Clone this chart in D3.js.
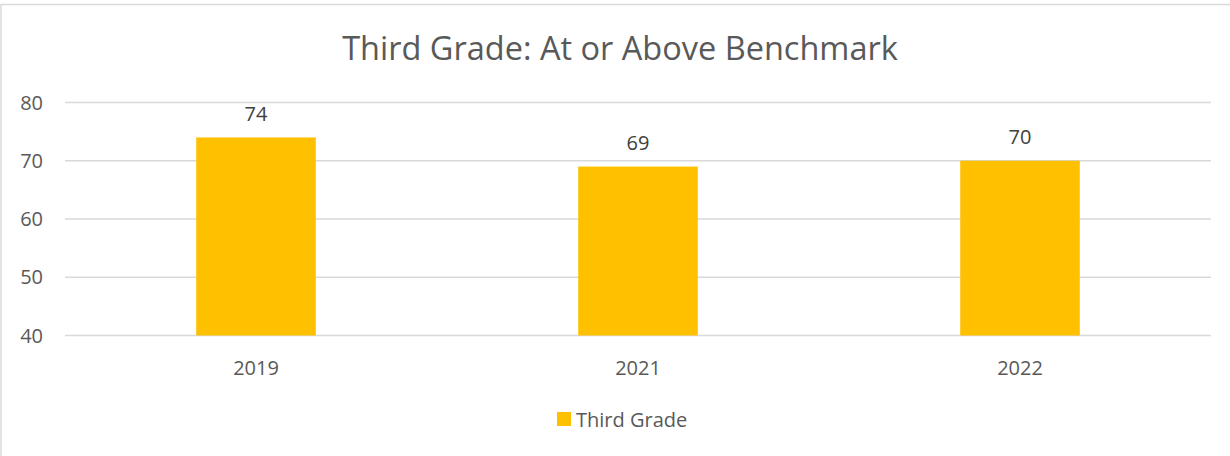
<!DOCTYPE html>
<html>
<head>
<meta charset="utf-8">
<script src="https://cdn.jsdelivr.net/npm/d3@7"></script>
<style>
  body { margin: 0; background: #fff; }
  svg { display: block; font-family: "Open Sans", "Liberation Sans", sans-serif; }
</style>
</head>
<body>
<script>
var years = ["2019", "2021", "2022"];
var valores = [74, 69, 70];
var yTicks = [40, 50, 60, 70, 80];
var titulo = "Third Grade: At or Above Benchmark";
var serie = "Third Grade";

const W = 1230, H = 456;
const svg = d3.select("body").append("svg")
    .attr("width", W)
    .attr("height", H);

// marco del grafico
svg.append("rect")
    .attr("x", 1).attr("y", 4.5)
    .attr("width", W + 10).attr("height", H + 10)
    .attr("fill", "none")
    .attr("stroke", "#d9d9d9")
    .attr("stroke-width", 1.5);

const x = d3.scaleBand()
    .domain(years)
    .range([65, 1211])
    .paddingInner(0.687)
    .paddingOuter(0.3435);

const y = d3.scaleLinear()
    .domain([40, 80])
    .range([335.5, 102.5]);

// lineas de la grilla
svg.append("g")
    .selectAll("line")
    .data(yTicks)
    .enter().append("line")
    .attr("x1", 65).attr("x2", 1211)
    .attr("y1", function(d){ return y(d); })
    .attr("y2", function(d){ return y(d); })
    .attr("stroke", "#d9d9d9")
    .attr("stroke-width", 1.3);

svg.append("g")
    .selectAll("text")
    .data(yTicks)
    .enter().append("text")
    .attr("x", 43)
    .attr("y", function(d){ return y(d) + 7; })
    .attr("text-anchor", "end")
    .attr("font-size", 20)
    .attr("fill", "#595959")
    .text(function(d){ return d; });

// barras
svg.append("g")
    .selectAll("rect")
    .data(valores)
    .enter().append("rect")
    .attr("x", function(d,i){ return x(years[i]); })
    .attr("width", x.bandwidth())
    .attr("y", function(d){ return y(d); })
    .attr("height", function(d){ return y(40) - y(d); })
    .attr("fill", "#FFC000");

// etiquetas de valores
svg.append("g")
    .selectAll("text")
    .data(valores)
    .enter().append("text")
    .attr("x", function(d,i){ return x(years[i]) + x.bandwidth()/2; })
    .attr("y", function(d){ return y(d) - 16.5; })
    .attr("text-anchor", "middle")
    .attr("font-size", 20)
    .attr("fill", "#404040")
    .text(function(d){ return d; });

// categorias
svg.append("g")
    .selectAll("text")
    .data(years)
    .enter().append("text")
    .attr("x", function(d){ return x(d) + x.bandwidth()/2; })
    .attr("y", 375)
    .attr("text-anchor", "middle")
    .attr("font-size", 20)
    .attr("fill", "#595959")
    .text(function(d){ return d; });

// titulo
svg.append("text")
    .attr("x", 620)
    .attr("y", 60)
    .attr("text-anchor", "middle")
    .attr("font-size", 32.5)
    .attr("fill", "#595959")
    .text(titulo);

// leyenda
const ley = svg.append("g");
ley.append("rect")
    .attr("x", 557).attr("y", 412)
    .attr("width", 14).attr("height", 14)
    .attr("fill", "#FFC000");
ley.append("text")
    .attr("x", 576).attr("y", 427)
    .attr("font-size", 20)
    .attr("fill", "#595959")
    .text(serie);
</script>
</body>
</html>
